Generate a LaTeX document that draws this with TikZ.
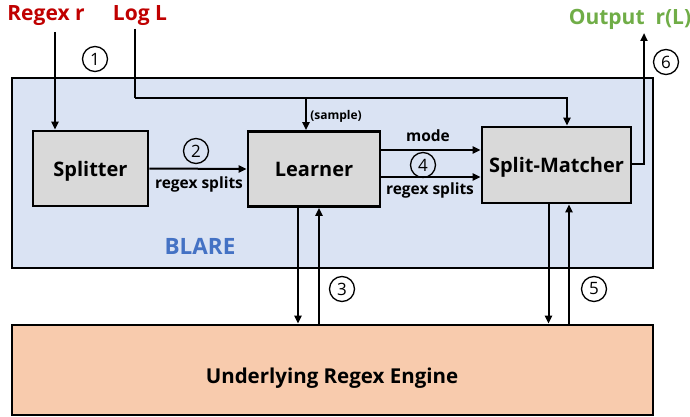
\documentclass[tikz,border=0pt]{standalone}
\usepackage{fontspec}
\setmainfont{Open Sans}
\usetikzlibrary{arrows.meta}
\definecolor{blarebg}{HTML}{DAE3F3}
\definecolor{boxgray}{HTML}{D9D9D9}
\definecolor{engbg}{HTML}{F8CBAD}
\definecolor{inred}{HTML}{C00000}
\definecolor{outgreen}{HTML}{70AD47}
\definecolor{blareblue}{HTML}{4472C4}
\tikzset{
  box/.style={draw=black, line width=2.6pt, fill=boxgray, inner sep=0pt, text depth=0pt, font=\fontsize{20}{22}\selectfont\bfseries},
  conn/.style={line width=2pt, -{Triangle[length=8pt,width=7pt]}},
  plainline/.style={line width=2pt},
  numc/.style={draw=black, line width=1.3pt, circle, minimum size=25pt, inner sep=0pt, font=\fontsize{17}{18}\selectfont},
  lbl/.style={font=\fontsize{15.5}{17}\selectfont\bfseries, inner sep=0pt},
  toplbl/.style={font=\fontsize{21}{23}\selectfont\bfseries, inner sep=0pt}
}
\begin{document}
\begin{tikzpicture}[x=1pt,y=-1pt]
\useasboundingbox (0,0) rectangle (690,417);
% containers
\node[draw=black, line width=2.6pt, fill=blarebg, minimum width=641pt, minimum height=190pt, inner sep=0pt] (blare) at (332.5,173) {};
\node[draw=black, line width=2.6pt, fill=engbg, minimum width=641pt, minimum height=90pt, inner sep=0pt] (engine) at (332.5,370) {};
\node[font=\fontsize{20.5}{22}\selectfont\bfseries, inner sep=0pt, text depth=0pt] (englbl) at (332,376) {Underlying Regex Engine};
\node[font=\fontsize{22.5}{24}\selectfont\bfseries, text=blareblue, inner sep=0pt] (blarelbl) at (200,246) {BLARE};
% boxes
\node[box, minimum width=115pt, minimum height=75pt] (splitter) at (90.5,168.5) {Splitter};
\node[box, minimum width=132pt, minimum height=75pt] (learner) at (314,169) {Learner};
\node[box, minimum width=149pt, minimum height=76pt] (matcher) at (556.5,165) {Split-Matcher};
% top labels
\node[toplbl, text=inred] (regex) at (46,16) {Regex r};
\node[toplbl, text=inred] (log) at (140,16) {Log L};
\node[toplbl, text=outgreen] (output) at (630,19) {Output\ \ r(L)};
\coordinate (regexbot) at (55,32);
\coordinate (logbot) at (135,29);
\coordinate (logturn) at (135,98);
\coordinate (branch) at (306,98);
\coordinate (outtop) at (644,33);
% connectors
\draw[conn] (regexbot) -- (regexbot |- splitter.north);
\draw[plainline] (logbot) -- (logturn);
\draw[conn] (logturn) -| ([xshift=10.5pt]matcher.north);
\draw[conn] (branch) -- (branch |- learner.north);
\node[font=\fontsize{12}{13}\selectfont\bfseries, inner sep=0pt] (sample) at (336,116) {(sample)};
\draw[conn] (splitter.east) -- (learner.west);
\node[numc] (c2) at (196,151) {2};
\node[lbl] (rs1) at (199,184) {regex splits};
\draw[conn] ([yshift=19pt]learner.east) -- ([yshift=19pt]learner.east -| matcher.west);
\draw[conn] ([yshift=-8pt]learner.east) -- ([yshift=-8pt]learner.east -| matcher.west);
\node[lbl] (mode) at (428,136) {mode};
\node[numc] (c4) at (423,165) {4};
\node[lbl] (rs2) at (430,190) {regex splits};
\draw[conn] ([yshift=1pt]matcher.east) -- ([yshift=1pt]matcher.east -| outtop) -- (outtop);
\node[numc] (c6) at (666,62) {6};
\node[numc] (c1) at (95,59) {1};
% engine arrows
\draw[conn] ([xshift=-16pt]learner.south) -- ([xshift=-16pt]learner.south |- engine.north);
\draw[conn] ([xshift=5pt]learner.south |- engine.north) -- ([xshift=5pt]learner.south);
\node[numc] (c3) at (342,289) {3};
\draw[conn] ([xshift=-8pt]matcher.south) -- ([xshift=-8pt]matcher.south |- engine.north);
\draw[conn] ([xshift=12.5pt]matcher.south |- engine.north) -- ([xshift=12.5pt]matcher.south);
\node[numc] (c5) at (594,289) {5};
\end{tikzpicture}
\end{document}
